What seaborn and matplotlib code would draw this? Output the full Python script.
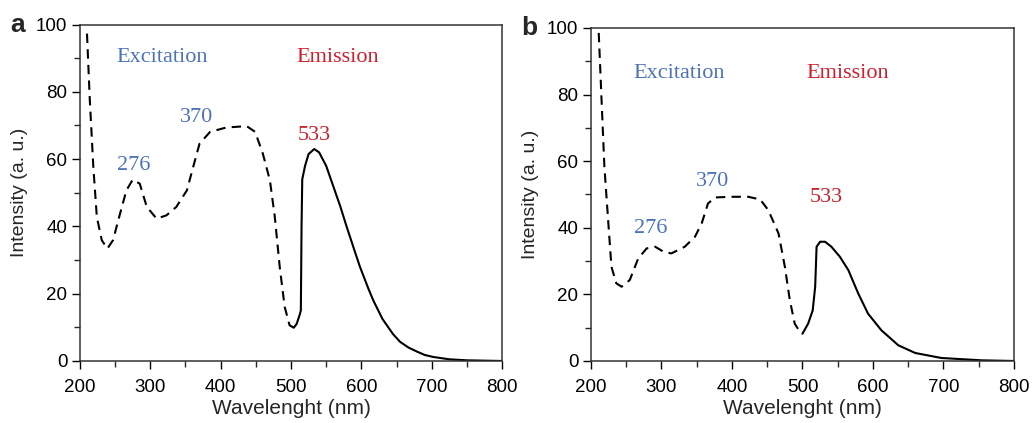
import matplotlib
matplotlib.use("Agg")
import matplotlib.pyplot as plt
import seaborn as sns
from matplotlib.ticker import MultipleLocator

# ---------------- data ----------------
# Panel a
exc_a_x = [210, 214, 219, 224, 231, 239, 247, 257, 266, 275, 285, 295, 309, 323, 337, 352,
           361, 370, 385, 408, 437, 449, 460, 470, 477, 484, 491, 498, 504]
exc_a_y = [97.3, 77.6, 57.7, 42.8, 35.9, 33.4, 35.9, 43.8, 50.7, 53.9, 52.7, 45.8, 42.3, 43.3, 45.8, 50.7,
           57.7, 64.6, 68.1, 69.4, 69.8, 68.1, 61.6, 53.7, 42.8, 27.9, 16.1, 10.6, 9.9]
em_a_x = [504, 508, 512, 514, 515, 516, 520, 525, 533, 540, 550, 560, 570, 579, 590, 598, 610, 617,
          630, 636, 645, 655, 667, 679, 690, 702, 725, 750, 800]
em_a_y = [9.9, 11.0, 13.5, 15.0, 40.0, 54.0, 58.0, 61.5, 63.0, 62.0, 58.0, 52.0, 46.0, 40.0, 33.0, 28.0,
          21.5, 18.0, 12.5, 10.7, 8.0, 5.7, 4.0, 2.8, 1.8, 1.2, 0.5, 0.2, 0.0]

# Panel b
exc_b_x = [211, 215, 219, 224, 229, 236, 243.5, 255, 267, 279, 291, 303, 314, 333, 347.5, 357,
           366, 376, 399.5, 423, 440, 451.5, 466, 475, 482, 489, 496.5, 500]
exc_b_y = [98.5, 78.4, 58.4, 43.3, 28.3, 23.3, 22.3, 24.3, 30.8, 33.8, 34.3, 32.8, 32.3, 34.3, 37.3, 41.3,
           47.3, 49.1, 49.3, 49.3, 48.5, 45.3, 38.3, 28.3, 18.3, 11.2, 8.7, 8.2]
em_b_x = [500, 508, 514.5, 518, 520, 525, 532, 541, 553, 565, 579, 593, 612, 636, 660, 697, 754, 800]
em_b_y = [8.2, 11.2, 15.2, 22.3, 34.3, 35.8, 35.8, 34.3, 31.3, 27.3, 20.3, 14.2, 9.2, 4.7, 2.4, 0.9, 0.2, 0.0]

panel_letters = ["a", "b"]
peak_labels = ["276", "370", "533"]
# label positions (data coords) for each panel
peak_pos_a = [(277, 58), (366, 72.4), (533, 67)]
peak_pos_b = [(285, 39.8), (372, 53.9), (533, 49.1)]
title_pos_a = [(252, 90.3), (508, 90.3)]
title_pos_b = [(260, 86.2), (506, 86.2)]

BLUE = "#4d72b8"
RED = "#cc1f2d"

sns.set_style("ticks")
plt.rcParams["font.family"] = ["Liberation Sans", "DejaVu Sans"]

fig = plt.figure(figsize=(10.33, 4.23), dpi=100)
ax_a = fig.add_axes([0.0774, 0.1466, 0.4086, 0.7954])
ax_b = fig.add_axes([0.5721, 0.1466, 0.4095, 0.7874])

panels = [
    (ax_a, exc_a_x, exc_a_y, em_a_x, em_a_y, peak_pos_a, title_pos_a, panel_letters[0]),
    (ax_b, exc_b_x, exc_b_y, em_b_x, em_b_y, peak_pos_b, title_pos_b, panel_letters[1]),
]

serif = ["Liberation Serif", "DejaVu Serif"]

for ax, ex, ey, mx, my, ppos, tpos, letter in panels:
    sns.lineplot(x=ex, y=ey, ax=ax, color="black", lw=1.5, sort=False, estimator=None,
                 linestyle=(0, (4.5, 3)))
    sns.lineplot(x=mx, y=my, ax=ax, color="black", lw=1.5, sort=False, estimator=None)
    ax.set_xlim(200, 800)
    ax.set_ylim(0, 100)
    ax.xaxis.set_major_locator(MultipleLocator(100))
    ax.xaxis.set_minor_locator(MultipleLocator(50))
    ax.yaxis.set_major_locator(MultipleLocator(20))
    ax.yaxis.set_minor_locator(MultipleLocator(10))
    ax.tick_params(axis="both", which="major", direction="out", length=6, width=1,
                   labelsize=13.5, colors="black", pad=3)
    ax.tick_params(axis="x", which="major", pad=7)
    ax.tick_params(axis="both", which="minor", direction="out", length=4, width=1)
    for s in ax.spines.values():
        s.set_visible(True)
        s.set_linewidth(1.1)
        s.set_color("#333333")
    ax.set_xlabel("Wavelenght (nm)", fontsize=15, labelpad=2)
    ax.set_ylabel("Intensity (a. u.)", fontsize=14, labelpad=6)

    ax.text(tpos[0][0], tpos[0][1], "Excitation", color=BLUE, fontsize=16,
            family=serif, ha="left", va="center")
    ax.text(tpos[1][0], tpos[1][1], "Emission", color=RED, fontsize=16,
            family=serif, ha="left", va="center")
    colors = [BLUE, BLUE, RED]
    for lab, (px, py), c in zip(peak_labels, ppos, colors):
        ax.text(px, py, lab, color=c, fontsize=16, family=serif, ha="center", va="center")

    ax.text(-0.165, 1.0, letter, transform=ax.transAxes, fontsize=19, fontweight="bold",
            ha="left", va="center")

fig.savefig("out.png", dpi=100)
